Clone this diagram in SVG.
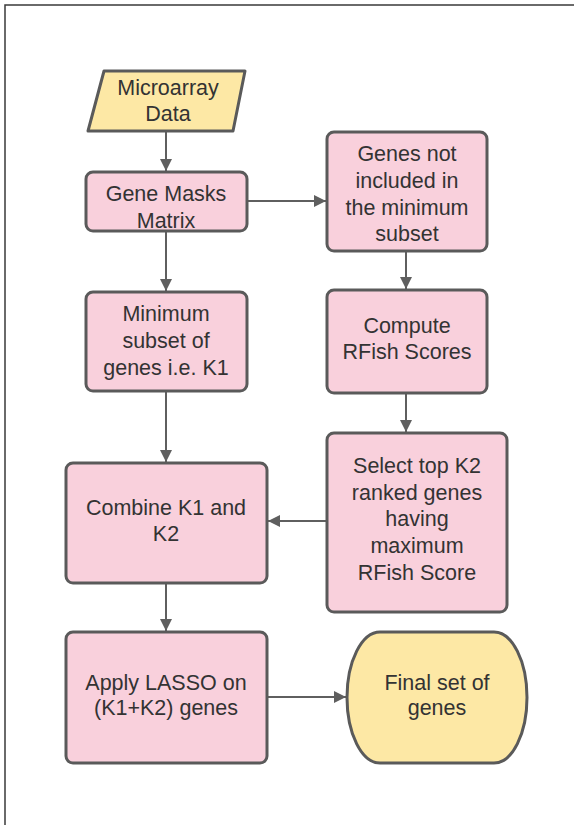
<svg xmlns="http://www.w3.org/2000/svg" width="574" height="825" viewBox="0 0 574 825">
<style>
.box{fill:#f9d0dc;stroke:#5a5a5a;stroke-width:3}
.yel{fill:#fde8a5;stroke:#5a5a5a;stroke-width:3;stroke-linejoin:round}
.t{font-family:"Liberation Sans",Arial,sans-serif;font-size:21.5px;fill:#333;text-anchor:middle}
.c{stroke:#5f5f5f;stroke-width:2;fill:none;marker-end:url(#ah)}
</style>
<defs>
<marker id="ah" markerWidth="12" markerHeight="12" viewBox="0 0 12 12" refX="12" refY="6" orient="auto" markerUnits="userSpaceOnUse">
<path d="M0,0 L12,6 L0,12 Z" fill="#5f5f5f"/>
</marker>
</defs>
<rect width="574" height="825" fill="#fff"/>
<path d="M5,825 V5 H574" fill="none" stroke="#3a3a3a" stroke-width="1.5"/>

<g id="connectors">
<line class="c" x1="166" y1="131" x2="166" y2="171"/>
<line class="c" x1="247" y1="201" x2="326" y2="201"/>
<line class="c" x1="166" y1="231" x2="166" y2="291"/>
<line class="c" x1="406" y1="251" x2="406" y2="289"/>
<line class="c" x1="406" y1="393" x2="406" y2="432"/>
<line class="c" x1="166" y1="391" x2="166" y2="462"/>
<line class="c" x1="327" y1="521" x2="268" y2="521"/>
<line class="c" x1="166" y1="583" x2="166" y2="631"/>
<line class="c" x1="267" y1="697" x2="346" y2="697"/>
</g>

<g id="microarray">
<path class="yel" d="M104,71 H245 L233,131 H88 Z"/>
<text class="t" x="168" y="95">Microarray</text>
<text class="t" x="168" y="121">Data</text>
</g>

<g id="genemasks">
<rect class="box" x="86" y="172" width="161" height="59" rx="7"/>
<text class="t" x="166" y="201">Gene Masks</text>
<text class="t" x="166" y="228">Matrix</text>
</g>

<g id="notincluded">
<rect class="box" x="327" y="132" width="160" height="119" rx="7"/>
<text class="t" x="407" y="161">Genes not</text>
<text class="t" x="407" y="188">included in</text>
<text class="t" x="407" y="215">the minimum</text>
<text class="t" x="407" y="241">subset</text>
</g>

<g id="compute">
<rect class="box" x="327" y="290" width="160" height="103" rx="7"/>
<text class="t" x="407" y="333">Compute</text>
<text class="t" x="407" y="359">RFish Scores</text>
</g>

<g id="minimum">
<rect class="box" x="86" y="292" width="161" height="99" rx="7"/>
<text class="t" x="166" y="321">Minimum</text>
<text class="t" x="166" y="348">subset of</text>
<text class="t" x="166" y="375">genes i.e. K1</text>
</g>

<g id="select">
<rect class="box" x="327" y="433" width="180" height="179" rx="7"/>
<text class="t" x="417" y="473">Select top K2</text>
<text class="t" x="417" y="500">ranked genes</text>
<text class="t" x="417" y="526">having</text>
<text class="t" x="417" y="553">maximum</text>
<text class="t" x="417" y="580">RFish Score</text>
</g>

<g id="combine">
<rect class="box" x="66" y="463" width="201" height="120" rx="7"/>
<text class="t" x="166" y="515">Combine K1 and</text>
<text class="t" x="166" y="541">K2</text>
</g>

<g id="lasso">
<rect class="box" x="66" y="632" width="201" height="131" rx="7"/>
<text class="t" x="166" y="690">Apply LASSO on</text>
<text class="t" x="166" y="715">(K1+K2) genes</text>
</g>

<g id="final">
<path class="yel" d="M380,632 H494 A33,65.5 0 0 1 494,763 H380 A33,65.5 0 0 1 380,632 Z"/>
<text class="t" x="437" y="690">Final set of</text>
<text class="t" x="437" y="715">genes</text>
</g>
</svg>
